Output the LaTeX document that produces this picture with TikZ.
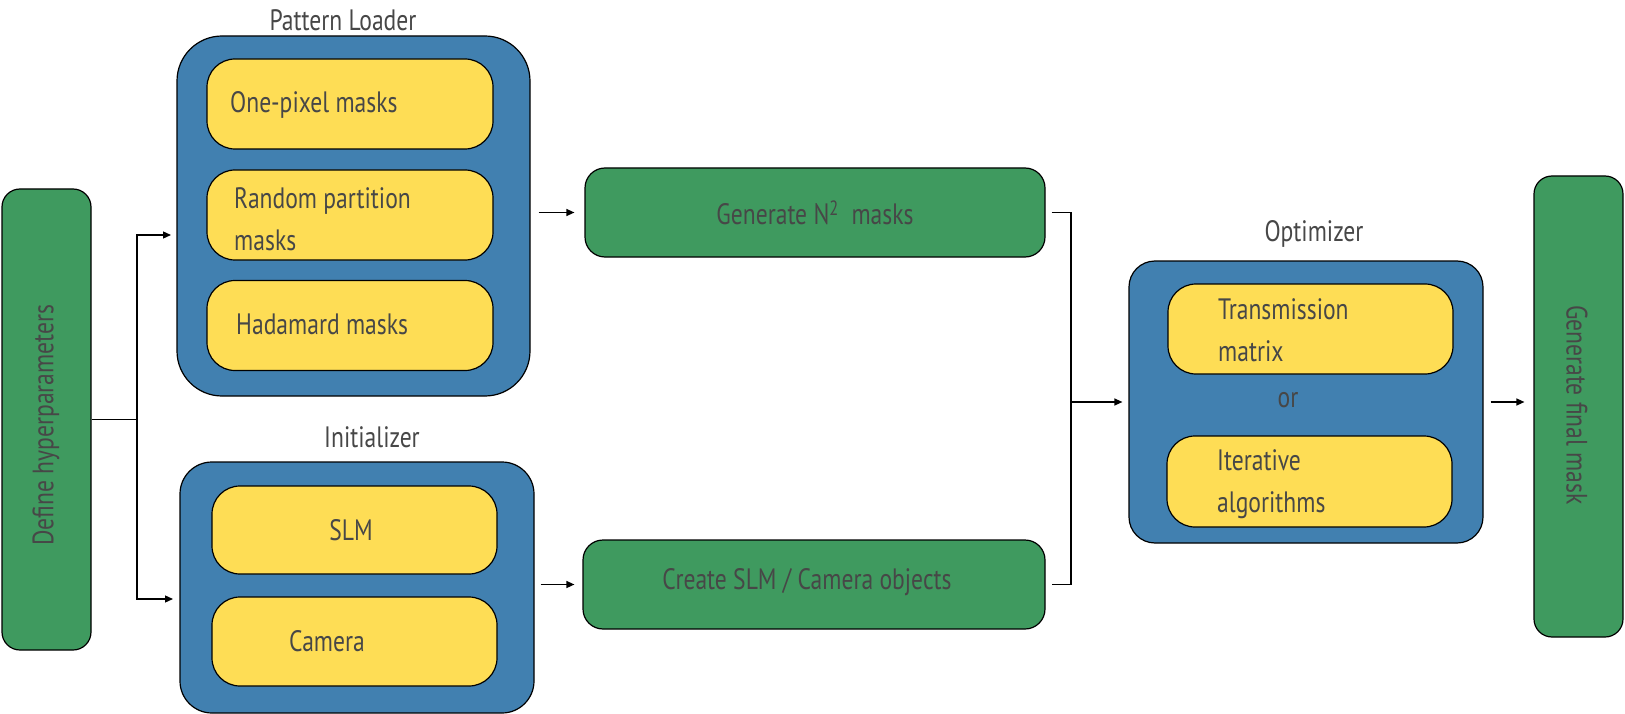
\documentclass[tikz,border=0pt]{standalone}
\usepackage{fontspec}
\setmainfont{PT Sans}[FakeStretch=0.8]
\usetikzlibrary{arrows.meta}
\definecolor{bluebox}{HTML}{4180B0}
\definecolor{yel}{HTML}{FEDD55}
\definecolor{grn}{HTML}{3F9A5F}
\definecolor{txt}{HTML}{474747}
\begin{document}
\begin{tikzpicture}[x=1pt,y=-1pt,
  every node/.style={font=\fontsize{29.5}{42}\selectfont, text=txt, inner sep=0pt},
  box/.style={draw=black, line width=1.2pt, rounded corners=#1},
  blueb/.style={box=#1, fill=bluebox},
  yelb/.style={box=#1, fill=yel},
  grnb/.style={box=#1, fill=grn},
  lbl/.style={align=left},
  conn/.style={line width=1.3pt, draw=black},
  arr/.style={conn, -{Triangle[length=8pt,width=7pt]}}
]
\useasboundingbox (0,0) rectangle (1625,714);

% left and right green boxes
\node[grnb=18, minimum width=89, minimum height=461] (hyp) at (46.5,419.5) {};
\node[rotate=90] (hypt) at (46,425) {Define hyperparameters};
\node[grnb=18, minimum width=89, minimum height=461] (fin) at (1578.5,406.5) {};
\node[rotate=-90] (fint) at (1577,405) {Generate final mask};

% Pattern loader
\node[blueb=45, minimum width=353, minimum height=360] (pl) at (353.5,216) {};
\node (plt) at (343,20) {Pattern Loader};
\node[yelb=28, minimum width=286, minimum height=90] (y1) at (350,104) {};
\node[yelb=28, minimum width=286, minimum height=90] (y2) at (350,215) {};
\node[yelb=28, minimum width=286, minimum height=90] (y3) at (350,325.5) {};
\node[anchor=west] (t1) at (230,105) {One-pixel masks};
\node[anchor=west, lbl] (t2) at (234,219) {Random partition\\masks};
\node[anchor=west] (t3) at (236,324) {Hadamard masks};

% Initializer
\node[blueb=32, minimum width=354, minimum height=251] (ini) at (357,587.5) {};
\node (init) at (372,437) {Initializer};
\node[yelb=28, minimum width=285, minimum height=88] (y4) at (354.5,530) {};
\node[yelb=28, minimum width=285, minimum height=89] (y5) at (354.5,641.5) {};
\node (t4) at (351,530) {SLM};
\node[anchor=west] (t5) at (289,641) {Camera};

% middle green boxes
\node[grnb=20, minimum width=460, minimum height=89] (gen) at (815,212.5) {};
\node (gent) at (815,213) {Generate N\textsuperscript{2}\ \ masks};
\node[grnb=20, minimum width=462, minimum height=89] (cre) at (814,584.5) {};
\node (cret) at (807,582) {Create SLM / Camera objects};

% Optimizer
\node[blueb=26, minimum width=354, minimum height=282] (opt) at (1306,402) {};
\node (optt) at (1314,234) {Optimizer};
\node[yelb=28, minimum width=285, minimum height=90] (y6) at (1310.5,329) {};
\node[yelb=28, minimum width=285, minimum height=91] (y7) at (1309.5,481.5) {};
\node[anchor=west, lbl] (t6) at (1218,330) {Transmission\\matrix};
\node (t8) at (1288,400) {or};
\node[anchor=west, lbl] (t7) at (1217,484) {Iterative\\algorithms};

% connectors
\coordinate (j1) at (137,419.5);
\coordinate (plin) at (171,235);
\coordinate (inin) at (173,599);
\draw[conn] (hyp.east) -- (j1);
\draw[arr] (j1) |- (plin);
\draw[arr] (j1) |- (inin);
\draw[arr, shorten <=8pt, shorten >=10pt] (pl.east |- gen.west) -- (gen.west);
\draw[arr, shorten <=6pt, shorten >=8pt] (ini.east |- cre.west) -- (cre.west);
\coordinate (j2) at (1071,402);
\draw[conn, shorten <=6pt, shorten >=6pt] (gen.east) -- (gen.east -| j2) -- (cre.east -| j2) -- (cre.east);
\draw[arr, shorten >=6pt] (j2) -- (opt.west);
\draw[arr, shorten <=7pt, shorten >=9pt] (opt.east) -- (opt.east -| fin.west);
\end{tikzpicture}
\end{document}
